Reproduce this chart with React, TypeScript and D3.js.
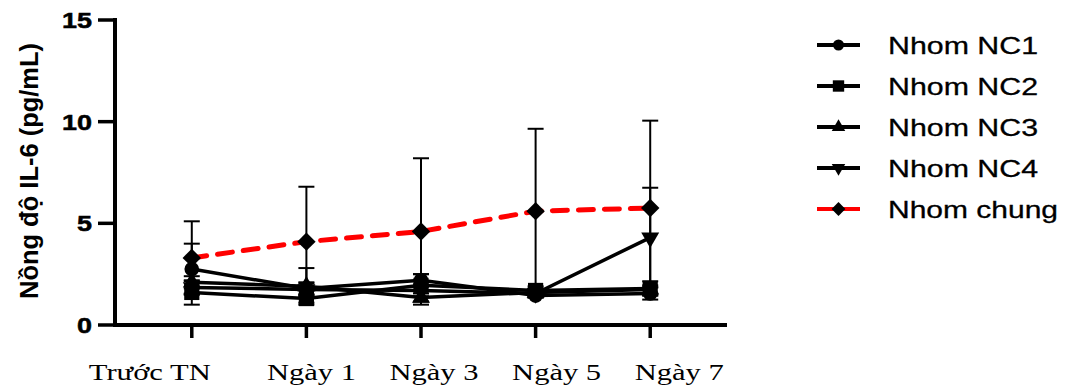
import React from "react";
import { scalePoint, scaleLinear, line, symbol, symbolCircle, symbolSquare, symbolTriangle } from "d3";

const categories = ["Trước TN", "Ngày 1", "Ngày 3", "Ngày 5", "Ngày 7"];
const yTicks = [0, 5, 10, 15];

const nc1 = [2.75, 1.8, 2.2, 1.45, 1.55];
const nc2 = [1.6, 1.3, 1.95, 1.7, 1.8];
const nc3 = [2.1, 1.9, 1.35, 1.6, 1.75];
const nc4 = [1.85, 1.75, 1.7, 1.55, 4.3];
const chung = [3.3, 4.1, 4.6, 5.6, 5.75];

const nc1Sd = [1.25, 0.3, 0.3, 0.1, 0.3];
const nc2Sd = [0.6, 0.2, 0.55, 0.2, 0.35];
const nc3Sd = [0.3, 0.9, 0.2, 0.2, 0.2];
const nc4Sd = [0.3, 0.3, 0.3, 0.2, 2.45];
const chungSd = [1.8, 2.7, 3.6, 4.05, 4.3];

// the category labels are not centred on their ticks in the original
const labelShift = [-42, 5, 13, 21, 29];

type Series = { name: string; values: number[]; sd: number[]; shape: string; color: string; dashed?: boolean };

const series: Series[] = [
  { name: "Nhom NC1", values: nc1, sd: nc1Sd, shape: "circle", color: "#000" },
  { name: "Nhom NC2", values: nc2, sd: nc2Sd, shape: "square", color: "#000" },
  { name: "Nhom NC3", values: nc3, sd: nc3Sd, shape: "up", color: "#000" },
  { name: "Nhom NC4", values: nc4, sd: nc4Sd, shape: "down", color: "#000" },
  { name: "Nhom chung", values: chung, sd: chungSd, shape: "diamond", color: "#ff0000", dashed: true },
];

const Marker = ({ shape, x, y, scale = 1 }: { shape: string; x: number; y: number; scale?: number }) => {
  let d = "";
  let rot = 0;
  const k = scale * scale;
  if (shape === "circle") d = symbol(symbolCircle, 170 * k)() as string;
  if (shape === "square") d = symbol(symbolSquare, 230 * k)() as string;
  if (shape === "up") d = symbol(symbolTriangle, 140 * k)() as string;
  if (shape === "down") { d = symbol(symbolTriangle, 140 * k)() as string; rot = 180; }
  if (shape === "diamond") { d = symbol(symbolSquare, 170 * k)() as string; rot = 45; }
  return <path d={d} fill="#000" transform={`translate(${x},${y}) rotate(${rot})`} />;
};

export default function App() {
  const width = 1075;
  const height = 388;
  const left = 115, right = 727, top = 20, bottom = 325;

  const x = scalePoint<string>().domain(categories).range([left, right]).padding(0.67);
  const y = scaleLinear().domain([0, 15]).range([bottom, top]);

  const lineGen = line<number>()
    .x((_, i) => x(categories[i]) as number)
    .y(d => y(d));

  const cap = 8;

  return (
    <svg width={width} height={height} style={{ position: "absolute", left: 0, top: 0 }}>
      <rect width={width} height={height} fill="#fff" />

      {/* y axis title */}
      <text
        transform={`translate(38, 171) rotate(-90)`}
        textAnchor="middle"
        fontFamily="Liberation Sans, Arial, sans-serif"
        fontWeight="bold"
        fontSize="25"
        textLength={256}
        lengthAdjust="spacingAndGlyphs"
      >
        Nồng độ IL-6 (pg/mL)
      </text>

      {/* y axis */}
      <line x1={left} x2={left} y1={top - 2} y2={bottom + 2} stroke="#000" strokeWidth={4} />
      {yTicks.map(t => (
        <g key={t}>
          <line x1={left - 17} x2={left} y1={y(t)} y2={y(t)} stroke="#000" strokeWidth={3.5} />
          <text
            x={92}
            y={y(t) + 8}
            textAnchor="end"
            fontFamily="Liberation Sans, Arial, sans-serif"
            fontWeight="bold"
            fontSize="22"
            stroke="#000"
            strokeWidth={0.5}
            textLength={t >= 10 ? 30 : 15}
            lengthAdjust="spacingAndGlyphs"
          >
            {t}
          </text>
        </g>
      ))}

      {/* x axis */}
      <line x1={left - 2} x2={right} y1={bottom} y2={bottom} stroke="#000" strokeWidth={4} />
      {categories.map((c, i) => (
        <g key={c}>
          <line x1={x(c)} x2={x(c)} y1={bottom} y2={bottom + 13} stroke="#000" strokeWidth={3.5} />
          <text
            x={(x(c) as number) + labelShift[i]}
            y={380}
            textAnchor="middle"
            fontFamily="Liberation Serif, Times New Roman, serif"
            fontSize="24"
            textLength={i === 0 ? 122 : 89}
            lengthAdjust="spacingAndGlyphs"
          >
            {c}
          </text>
        </g>
      ))}

      {/* error bars */}
      {series.map(s =>
        s.values.map((v, i) => {
          const cx = x(categories[i]) as number;
          const hi = y(v + s.sd[i]);
          const lo = y(v - s.sd[i]);
          return (
            <g key={s.name + i} stroke="#000" strokeWidth={2}>
              <line x1={cx} x2={cx} y1={hi} y2={lo} />
              <line x1={cx - cap} x2={cx + cap} y1={hi} y2={hi} />
              <line x1={cx - cap} x2={cx + cap} y1={lo} y2={lo} />
            </g>
          );
        })
      )}

      {/* lines */}
      {series.map(s => (
        <path
          key={s.name}
          d={lineGen(s.values) as string}
          fill="none"
          stroke={s.color}
          strokeWidth={s.dashed ? 5 : 3.5}
          strokeDasharray={s.dashed ? "15 11" : undefined}
          strokeLinecap={s.dashed ? "round" : "butt"}
        />
      ))}

      {/* markers */}
      {series.map(s =>
        s.values.map((v, i) => (
          <Marker key={s.name + "m" + i} shape={s.shape} x={x(categories[i]) as number} y={y(v)} />
        ))
      )}

      {/* legend */}
      {series.map((s, i) => {
        const ly = 45 + i * 41;
        return (
          <g key={s.name + "leg"}>
            <line x1={817} x2={860} y1={ly} y2={ly} stroke={s.color} strokeWidth={4} />
            <Marker shape={s.shape} x={838.5} y={ly} scale={0.75} />
            <text
              x={888}
              y={ly + 9}
              fontFamily="Liberation Sans, Arial, sans-serif"
              fontSize="24"
              stroke="#000"
              strokeWidth={0.3}
              textLength={s.name === "Nhom chung" ? 170 : 150}
              lengthAdjust="spacingAndGlyphs"
            >
              {s.name}
            </text>
          </g>
        );
      })}
    </svg>
  );
}
